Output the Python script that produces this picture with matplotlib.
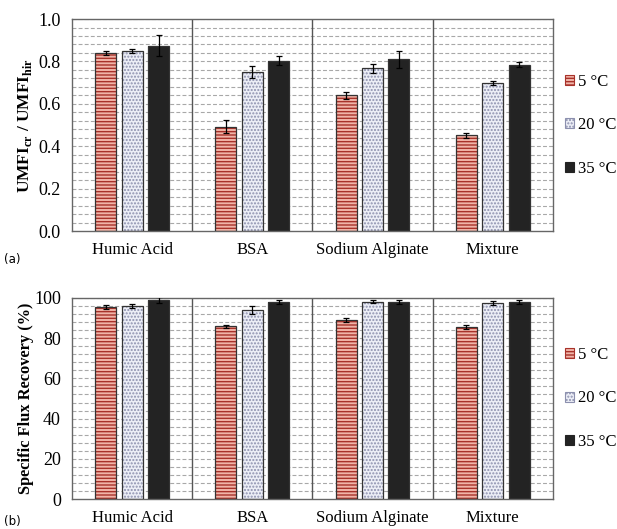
import numpy as np
import matplotlib
matplotlib.use("Agg")
import matplotlib.pyplot as plt
from matplotlib.patches import Patch

plt.rcParams['font.family'] = ['Liberation Serif', 'DejaVu Serif']
plt.rcParams['mathtext.fontset'] = 'custom'
plt.rcParams['mathtext.rm'] = 'Liberation Serif'
plt.rcParams['mathtext.bf'] = 'Liberation Serif:bold'
plt.rcParams['hatch.linewidth'] = 1.0

# foulants and temperatures
groups = ['Humic Acid', 'BSA', 'Sodium Alginate', 'Mixture']
temps = ['5 °C', '20 °C', '35 °C']

# UMFI ratio (chemically reversible / hydraulically irreversible)
umfi_5 = [0.841, 0.492, 0.640, 0.451]
umfi_20 = [0.849, 0.750, 0.767, 0.698]
umfi_35 = [0.874, 0.803, 0.811, 0.785]
umfi_err_5 = [0.010, 0.030, 0.018, 0.010]
umfi_err_20 = [0.010, 0.030, 0.022, 0.010]
umfi_err_35 = [0.050, 0.022, 0.040, 0.010]

# specific flux recovery (%)
sfr_5 = [95.3, 85.9, 89.0, 85.4]
sfr_20 = [96.2, 94.2, 98.2, 97.3]
sfr_35 = [99.0, 98.2, 98.2, 98.2]
sfr_err_5 = [1.0, 0.8, 0.9, 1.0]
sfr_err_20 = [1.0, 2.0, 0.7, 1.0]
sfr_err_35 = [1.5, 1.0, 1.0, 1.0]

styles = [
    dict(facecolor='#f0b4a8', edgecolor='#a8322a', hatch='-----'),
    dict(facecolor='#eceef6', edgecolor='#8c90ae', hatch='.....'),
    dict(facecolor='#232323', edgecolor='#232323', hatch=None),
]

fig = plt.figure(figsize=(6.17, 5.29), dpi=100)
ax1 = fig.add_axes([0.1167, 0.5633, 0.7793, 0.4007])
ax2 = fig.add_axes([0.1167, 0.0567, 0.7793, 0.3800])


def draw_panel(ax, series, errors, ymax, grid_step, major_step, fmt):
    x = np.arange(len(groups)) + 0.5
    offsets = [-0.22, 0.0, 0.22]
    width = 0.175
    # dashed horizontal grid
    for yv in np.arange(grid_step, ymax + 1e-9, grid_step):
        ax.axhline(yv, color='#a8a8a8', lw=0.8, ls=(0, (3.5, 2)), zorder=0)
    for vals, errs, off, st in zip(series, errors, offsets, styles):
        ax.bar(x + off, vals, width, facecolor=st['facecolor'],
               edgecolor=st['edgecolor'], hatch=st['hatch'], lw=0, zorder=2)
        ax.bar(x + off, vals, width, facecolor='none', edgecolor='#333333',
               lw=0.9, zorder=3)
        ax.errorbar(x + off, vals, yerr=errs, fmt='none', ecolor='black',
                    elinewidth=0.9, capsize=2.5, capthick=0.9, zorder=4)
    for sep in range(1, len(groups)):
        ax.axvline(sep, color='#555555', lw=1.0, zorder=1)
    ax.set_xlim(0, len(groups))
    ax.set_ylim(0, ymax)
    ax.set_xticks(x)
    ax.set_xticklabels(groups, fontsize=12)
    ticks = np.arange(0, ymax + 1e-9, major_step)
    ax.set_yticks(ticks)
    ax.set_yticklabels([fmt.format(t) for t in ticks], fontsize=13)
    ax.tick_params(length=0, pad=8)
    for sp in ax.spines.values():
        sp.set_color('#666666')
        sp.set_linewidth(1.0)
    handles = [Patch(facecolor=st['facecolor'], edgecolor=st['edgecolor'] if st['hatch'] else '#232323',
                     hatch=st['hatch'], lw=0.8) for st in styles]
    ax.legend(handles, temps, loc='center left', bbox_to_anchor=(1.014, 0.5),
              frameon=False, fontsize=12, handlelength=0.55, handleheight=0.55,
              handletextpad=0.25, labelspacing=1.65, borderaxespad=0, borderpad=0.3)


draw_panel(ax1, [umfi_5, umfi_20, umfi_35], [umfi_err_5, umfi_err_20, umfi_err_35],
           1.0, 0.04, 0.2, '{:.1f}')
draw_panel(ax2, [sfr_5, sfr_20, sfr_35], [sfr_err_5, sfr_err_20, sfr_err_35],
           100, 4, 20, '{:.0f}')

ax1.set_ylabel(r'UMFI$_{\mathbf{cr}}$ / UMFI$_{\mathbf{hir}}$', fontsize=12.5,
               fontweight='bold')
ax2.set_ylabel('Specific Flux Recovery (%)', fontsize=11.8, fontweight='bold')
ax1.yaxis.set_label_coords(-0.080, 0.5)
ax2.yaxis.set_label_coords(-0.080, 0.5)

fig.text(0.006, 0.51, '(a)', fontsize=8.5, family='DejaVu Sans', va='center')
fig.text(0.006, 0.002, '(b)', fontsize=8.5, family='DejaVu Sans', va='bottom')

fig.savefig('out.png', dpi=100)
